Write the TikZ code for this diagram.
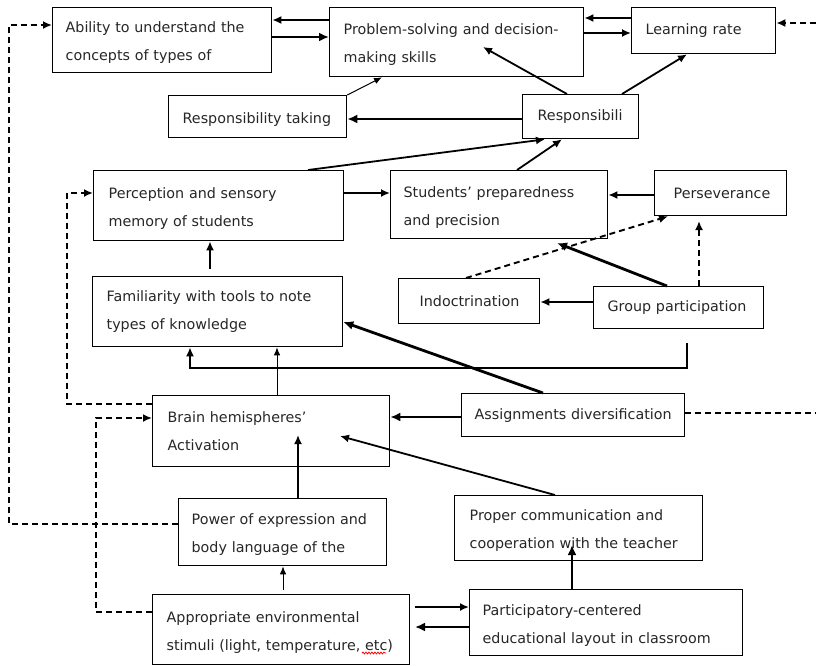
\documentclass[tikz,border=0pt]{standalone}
\usepackage{fontspec}
\setmainfont{DejaVu Sans}
\usetikzlibrary{arrows.meta,calc,decorations.pathmorphing}

% box with given corners and left text padding
\newcommand{\mkbox}[7]{%
  \pgfmathsetmacro{\mkbw}{#4-#2}%
  \pgfmathsetmacro{\mkbh}{#5-#3}%
  \pgfmathsetmacro{\mktw}{\mkbw-2*#6}%
  \node[factor, anchor=north west, minimum width=\mkbw pt, minimum height=\mkbh pt,
        text width=\mktw pt, inner xsep=#6pt] (#1) at (#2,#3) {#7};}
% taller first line, lowers the text block a little
\newcommand{\lowr}{\rule{0pt}{16pt}}

\begin{document}
\begin{tikzpicture}[x=1pt, y=-1pt,
  factor/.style={draw, line width=1.3pt, inner ysep=0pt, align=left,
                 font=\fontsize{14.3}{28}\selectfont, text=black!85},
  thinarr/.style={line width=1pt, -{Latex[length=8pt,width=6.5pt]}},
  midarr/.style={line width=1.8pt, -{Latex[length=9pt,width=8pt]}},
  boldarr/.style={line width=2.8pt, -{Latex[length=10pt,width=9pt]}},
  dasharr/.style={line width=1.9pt, dash pattern=on 6pt off 4pt, -{Latex[length=9pt,width=8pt]}},
  dashline/.style={line width=1.9pt, dash pattern=on 6pt off 4pt}]
\useasboundingbox (0,0) rectangle (816,665);

% factors
\mkbox{ab}{52}{7}{271}{72}{13}{\lowr Ability to understand the\\concepts of types of}
\mkbox{ps}{329}{7}{583}{76}{14}{\lowr Problem-solving and decision-\\making skills}
\mkbox{lr}{631}{7}{775}{53}{14}{Learning rate}
\mkbox{rt}{168}{95}{346}{137}{14}{\lowr\mbox{Responsibility taking}}
\mkbox{rs}{522}{94}{638}{138}{15}{Responsibili}
\mkbox{pc}{93}{170}{343}{240}{15}{\lowr Perception and sensory\\memory of students}
\mkbox{st}{390}{170}{607}{238}{13}{\lowr Students’ preparedness\\and precision}
\mkbox{pv}{654}{170}{786}{215}{19}{Perseverance}
\mkbox{fm}{92}{276}{342}{346}{14}{Familiarity with tools to note\\types of knowledge}
\mkbox{id}{398}{278}{539}{323}{21}{Indoctrination}
\mkbox{gp}{593}{286}{763}{328}{14}{\mbox{Group participation}}
\mkbox{br}{152}{395}{389}{466}{15}{Brain hemispheres’\\Activation}
\mkbox{as}{461}{393}{684}{436}{13}{\mbox{Assignments diversification}}
\mkbox{pw}{178}{498}{386}{565}{13}{\lowr Power of expression and\\body language of the}
\mkbox{pr}{454}{495}{702}{560}{15}{\lowr Proper communication and\\cooperation with the teacher}
\mkbox{ap}{152}{594}{409}{664}{14}{\lowr Appropriate environmental\\stimuli (light, temperature, etc)}
\mkbox{pa}{469}{589}{742}{655}{13}{\lowr Participatory-centered\\educational layout in classroom}

% spelling mark under "etc"
\draw[red, line width=0.8pt, decorate, decoration={snake, segment length=3pt, amplitude=0.9pt}]
  (362,653) -- (386,653);

% free ends of connectors
\coordinate (rin) at (816,23);
\coordinate (rout) at (816,413);
\coordinate (psin) at (483,47);
\coordinate (fmtop) at (210,269);
\coordinate (stlow) at (557,243);
\coordinate (pvlow) at (699,221);
\coordinate (gpbr) at (687,343);
\coordinate (brin) at (340,436);
\coordinate (brlow) at (298,435);
\coordinate (aptop) at (283,590);
\coordinate (apr1) at (415,607);
\coordinate (apr2) at (415,627);
\coordinate (prin) at (572,545);

% top row
\draw[midarr] (ps.west |- 0,20) -- (ab.east |- 0,20);
\draw[boldarr] (ab.east |- 0,37) -- (ps.west |- 0,37);
\draw[midarr] (lr.west |- 0,18) -- (ps.east |- 0,18);
\draw[midarr] (ps.east |- 0,33) -- (lr.west |- 0,33);
\draw[dasharr] (rin) -- (lr.east |- 0,23);

% responsibility links
\draw[thinarr] (rt.north east) -- (ps.south -| 382,0);
\draw[boldarr] (rs.west |- 0,119) -- (rt.east |- 0,119);
\draw[midarr] (rs.north -| 567,0) -- (psin);
\draw[midarr] (rs.north -| 622,0) -- (lr.south -| 687,0);
\draw[midarr] (pc.north -| 308,0) -- (rs.south -| 545,0);
\draw[midarr] (st.north -| 517,0) -- (rs.south -| 562,0);

% middle rows
\draw[midarr] (pc.east |- 0,193) -- (st.west |- 0,193);
\draw[midarr] (pv.west |- 0,195) -- (st.east |- 0,195);
\draw[midarr] (fmtop) -- (pc.south -| 210,0);
\draw[dasharr] (id.north -| 466,0) -- (pv.south -| 668,0);
\draw[boldarr] (gp.north -| 667,0) -- (stlow);
\draw[dasharr] (gp.north -| 699,0) -- (pvlow);
\draw[midarr] (gp.west |- 0,302) -- (id.east |- 0,302);
\draw[midarr] (gpbr) -- (687,368) -| (fm.south -| 190,0);
\draw[thinarr] (br.north -| 277,0) -- (fm.south -| 277,0);
\draw[boldarr] (as.north -| 543,0) -- (fm.east |- 0,322);
\draw[boldarr] (as.west |- 0,417) -- (br.east |- 0,417);
\draw[dashline] (as.east |- 0,413) -- (rout);

% lower rows
\draw[midarr] (pr.north -| 555,0) -- (brin);
\draw[midarr] (pw.north -| 298,0) -- (brlow);
\draw[thinarr] (aptop) -- (pw.south -| 283,0);
\draw[midarr] (apr1) -- (pa.west |- 0,607);
\draw[boldarr] (pa.west |- 0,627) -- (apr2);
\draw[boldarr] (pa.north -| 572,0) -- (prin);

% dashed feedback loops on the left
\draw[dasharr] (pw.west |- 0,524) -| (9,25) -- (ab.west |- 0,25);
\draw[dasharr] (br.west |- 0,404) -| (67,193) -- (pc.west |- 0,193);
\draw[dasharr] (ap.west |- 0,612) -| (96,418) -- (br.west |- 0,418);
\end{tikzpicture}
\end{document}
